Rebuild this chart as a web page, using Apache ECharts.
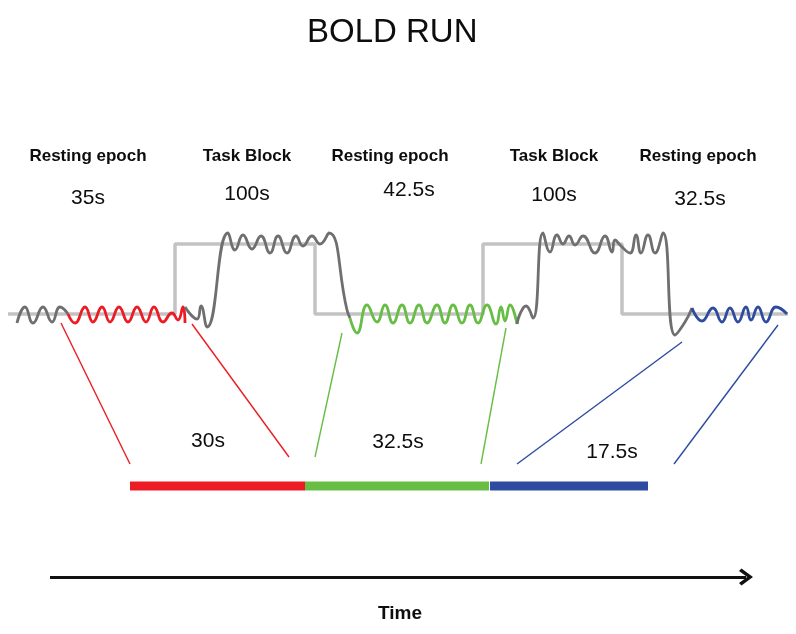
<!DOCTYPE html>
<html>
<head>
<meta charset="utf-8">
<script src="https://cdn.jsdelivr.net/npm/echarts@6/dist/echarts.min.js"></script>
<style>
  html, body { margin: 0; padding: 0; background: #fff; }
  #chart { width: 796px; height: 634px; }
</style>
</head>
<body>
<div id="chart"></div>
<script>
// diagram units: x across the page, y down the page
const FONT = '"Liberation Sans", Arial, sans-serif'

// block design (square wave)
const stepX = [8, 175, 175, 315, 315, 483, 483, 622, 622, 788]
const stepY = [314, 314, 244, 244, 314, 314, 244, 244, 314, 314]

// BOLD signal, read peak by peak
const waveGray1 = [[17, 323], [25, 307], [33, 323], [43, 307], [52, 322], [60, 307], [68, 314]]
const waveRed = [[68, 314], [75, 323], [85, 307], [93, 322], [102, 307], [110, 322], [119, 307], [128, 322],
  [137, 307], [146, 322], [154, 307], [163, 322], [172, 313], [178, 320], [183, 307], [185, 323]]
const waveGray2 = [[185, 307], [197, 319], [201, 306], [207, 327], [228, 233], [235, 250], [243, 235], [252, 249],
  [261, 236], [270, 253], [278, 236], [287, 253], [296, 236], [303, 246], [312, 236], [320, 244], [329, 233],
  [347, 310], [350, 318]]
const waveGreen = [[350, 318], [357, 333], [367, 305], [377, 322], [385, 305], [393, 323], [402, 305], [410, 323],
  [419, 305], [427, 323], [437, 305], [445, 323], [453, 305], [462, 323], [470, 305], [478, 323], [487, 305],
  [496, 324], [501, 307], [505, 321], [510, 305], [517, 324]]
const waveGray3 = [[517, 324], [520, 314], [526, 306], [533, 318], [543, 233], [550, 252], [557, 235], [563, 244],
  [569, 236], [575, 245], [583, 236], [595, 253], [605, 236], [612, 252], [615, 240], [621, 246], [630, 253],
  [636, 235], [641, 253], [648, 235], [655, 253], [663, 233], [675, 335], [685, 322], [692, 308]]
const waveBlue = [[692, 308], [702, 321], [713, 308], [722, 322], [730, 308], [738, 322], [746, 307], [751, 320],
  [758, 307], [766, 322], [776, 307], [787, 314]]

// lines from the resting epochs down to the concatenated bar
const linksRed = [[[61, 323], [130, 464]], [[192, 324], [289, 457]]]
const linksGreen = [[[342, 333], [315, 457]], [[506, 328], [481, 464]]]
const linksBlue = [[[682, 342], [517, 464]], [[778, 325], [674, 464]]]

// concatenated resting data bar
const barY = 486
const barRed = [130, 305]
const barGreen = [305, 489]
const barBlue = [490, 648]

// labels
const epochNames = ['Resting epoch', 'Task Block', 'Resting epoch', 'Task Block', 'Resting epoch']
const epochX = [88, 247, 390, 554, 698]
const epochDur = ['35s', '100s', '42.5s', '100s', '32.5s']
const epochDurX = [88, 247, 409, 554, 700]
const epochDurY = [198, 194, 190, 195, 199]
const restDur = ['30s', '32.5s', '17.5s']
const restDurX = [208, 398, 612]
const restDurY = [441, 442, 452]

const RED = '#ed1c24'
const GREEN = '#68bd45'
const BLUE = '#2e4b9f'
const GRAY = '#6f6f6f'
const INK = '#0d0d0d'

const waveSeries = (data, color) => ({
  type: 'line', data, smooth: 0.5, symbol: 'none', silent: true,
  lineStyle: { color, width: 2.8 }, z: 3
})
const linkSeries = (pair, color) => ({
  type: 'line', data: pair, symbol: 'none', silent: true,
  lineStyle: { color, width: 1.4 }, z: 2
})
const barSeries = (ends, color) => ({
  type: 'line', data: ends.map(x => [x, barY]), symbol: 'none', silent: true,
  lineStyle: { color, width: 9, cap: 'butt' }, z: 2
})
const textSeries = (names, xs, ys, size, weight) => ({
  type: 'scatter', symbolSize: 0, silent: true,
  itemStyle: { color: INK },
  data: names.map((n, i) => ({ name: n, value: [xs[i], Array.isArray(ys) ? ys[i] : ys] })),
  label: {
    show: true, position: 'inside', formatter: '{b}',
    color: INK, textBorderWidth: 0, opacity: 1,
    fontFamily: FONT, fontSize: size, fontWeight: weight
  },
  z: 5
})

const chart = echarts.init(document.getElementById('chart'), null, { renderer: 'canvas' })

chart.setOption({
  animation: false,
  backgroundColor: '#fff',
  title: {
    text: 'BOLD RUN', left: 302, top: 11,
    textStyle: { fontFamily: FONT, fontSize: 33, fontWeight: 'normal', color: INK }
  },
  grid: { left: 0, right: 0, top: 0, bottom: 0 },
  xAxis: { type: 'value', min: 0, max: 796, show: false },
  yAxis: { type: 'value', min: 0, max: 634, inverse: true, show: false },
  series: [
    {
      type: 'line', data: stepX.map((x, i) => [x, stepY[i]]), symbol: 'none', silent: true,
      lineStyle: { color: '#c3c3c3', width: 3.5 }, z: 1
    },
    waveSeries(waveGray1, GRAY),
    waveSeries(waveRed, RED),
    waveSeries(waveGray2, GRAY),
    waveSeries(waveGreen, GREEN),
    waveSeries(waveGray3, GRAY),
    waveSeries(waveBlue, BLUE),
    ...linksRed.map(p => linkSeries(p, RED)),
    ...linksGreen.map(p => linkSeries(p, GREEN)),
    ...linksBlue.map(p => linkSeries(p, BLUE)),
    barSeries(barRed, RED),
    barSeries(barGreen, GREEN),
    barSeries(barBlue, BLUE),
    textSeries(epochNames, epochX, 156, 17, 'bold'),
    textSeries(epochDur, epochDurX, epochDurY, 21, 'normal'),
    textSeries(restDur, restDurX, restDurY, 21, 'normal'),
    textSeries(['Time'], [400], 614, 19, 'bold'),
    {
      // time arrow
      type: 'line', data: [], silent: true,
      markLine: {
        silent: true, animation: false,
        symbol: ['none', 'path://M10,0 L20,14 L17,17 L10,7 L3,17 L0,14 Z'],
        symbolSize: [17, 14],
        label: { show: false },
        lineStyle: { color: '#111', width: 3, type: 'solid' },
        data: [[{ coord: [50, 577] }, { coord: [746, 577] }]]
      }
    }
  ]
})
</script>
</body>
</html>
